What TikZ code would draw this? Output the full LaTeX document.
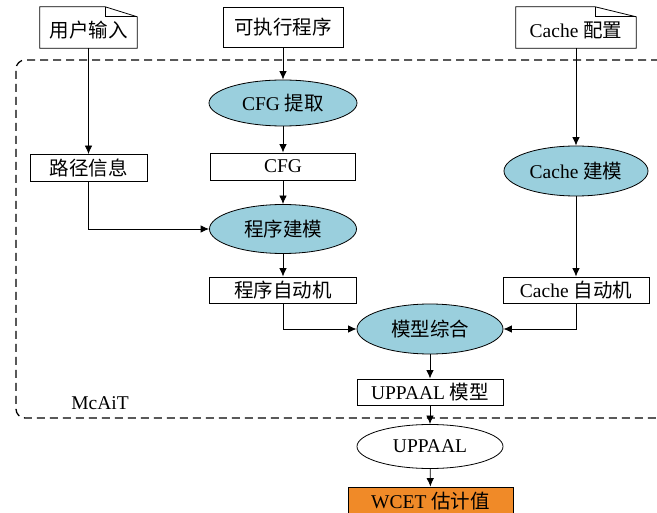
\documentclass[tikz,border=0pt]{standalone}
\usepackage{fontspec}
\setmainfont{Liberation Serif}
\newfontfamily\cjk{Noto Sans CJK SC}
\usetikzlibrary{shapes.geometric,arrows.meta,calc}
\definecolor{ellblue}{RGB}{154,207,221}
\definecolor{wcetorange}{RGB}{240,138,40}
\begin{document}
\begin{tikzpicture}[x=1pt,y=-1pt,
  font=\fontsize{19.5}{22}\selectfont,
  box/.style={draw, line width=0.8pt, rectangle, inner sep=0pt},
  docnode/.style={rectangle, inner sep=0pt, minimum height=41pt, text height=21pt, text depth=0pt},
  docline/.style={line width=0.8pt},
  ell/.style={draw, line width=0.8pt, ellipse, fill=ellblue, inner sep=0pt},
  arr/.style={-{Latex[length=8.5pt,width=7.5pt]}, line width=0.8pt},
  group/.style={draw, dashed, dash pattern=on 8pt off 5pt, line width=1.3pt, rounded corners=9pt, rectangle, inner sep=0pt},
]
\useasboundingbox (0,0) rectangle (657,513);

% dashed container
\node[group, minimum width=652pt, minimum height=358pt] (mcait) at (342,239) {};
\node (mcaitlbl) at (100,403) {McAiT};

% document inputs
\node[docnode, minimum width=97pt] (uin) at (88.5,27.5) {\cjk 用户输入};
\draw[docline] (uin.south west) -- (uin.north west) -- ([xshift=-32pt]uin.north east)
  -- ([yshift=-10pt]uin.north east) -- (uin.south east) -- cycle;
\draw[docline] ([xshift=-32pt]uin.north east) -- ([xshift=-32pt,yshift=-10pt]uin.north east)
  -- ([yshift=-10pt]uin.north east);

\node[box, minimum width=120pt, minimum height=40pt] (exe) at (283,27.5) {\cjk 可执行程序};

\node[docnode, minimum width=120pt] (cconf) at (576,27.5) {Cache {\cjk 配置}};
\draw[docline] (cconf.south west) -- (cconf.north west) -- ([xshift=-41pt]cconf.north east)
  -- ([yshift=-10pt]cconf.north east) -- (cconf.south east) -- cycle;
\draw[docline] ([xshift=-41pt]cconf.north east) -- ([xshift=-41pt,yshift=-10pt]cconf.north east)
  -- ([yshift=-10pt]cconf.north east);

% middle column
\node[ell, minimum width=148pt, minimum height=46pt] (cfgx) at (283,103) {CFG {\cjk 提取}};
\node[box, minimum width=145pt, minimum height=27pt] (cfg) at (283,166.5) {CFG};
\node[ell, minimum width=147pt, minimum height=49pt] (pm) at (283,229) {\cjk 程序建模};
\node[box, minimum width=147pt, minimum height=26pt] (pa) at (283,290) {\cjk 程序自动机};

% left column
\node[box, minimum width=117pt, minimum height=27pt] (path) at (88.5,168) {\cjk 路径信息};

% right column
\node[ell, minimum width=144pt, minimum height=50pt] (cm) at (576,171) {Cache {\cjk 建模}};
\node[box, minimum width=146pt, minimum height=26pt] (ca) at (576,290) {Cache {\cjk 自动机}};

% bottom chain
\node[ell, minimum width=146pt, minimum height=50pt] (mc) at (430,329) {\cjk 模型综合};
\node[box, minimum width=146pt, minimum height=26pt] (um) at (430,392) {UPPAAL {\cjk 模型}};
\node[ell, fill=white, minimum width=146pt, minimum height=44pt] (up) at (430,446.5) {UPPAAL};
\node[box, fill=wcetorange, minimum width=165pt, minimum height=28pt] (wcet) at (430.5,501) {WCET {\cjk 估计值}};

% connectors
\draw[arr] (uin) -- (path);
\draw[arr] (path.south) |- (pm.west);
\draw[arr] (exe) -- (cfgx);
\draw[arr] (cfgx) -- (cfg);
\draw[arr] (cfg) -- (pm);
\draw[arr] (pm) -- (pa);
\draw[arr] (pa.south) |- (mc.west);
\draw[arr] (cconf) -- (cm);
\draw[arr] (cm) -- (ca);
\draw[arr] (ca.south) |- (mc.east);
\draw[arr] (mc) -- (um);
\draw[arr] (um) -- (up);
\draw[arr] (up) -- (wcet);
\end{tikzpicture}
\end{document}
